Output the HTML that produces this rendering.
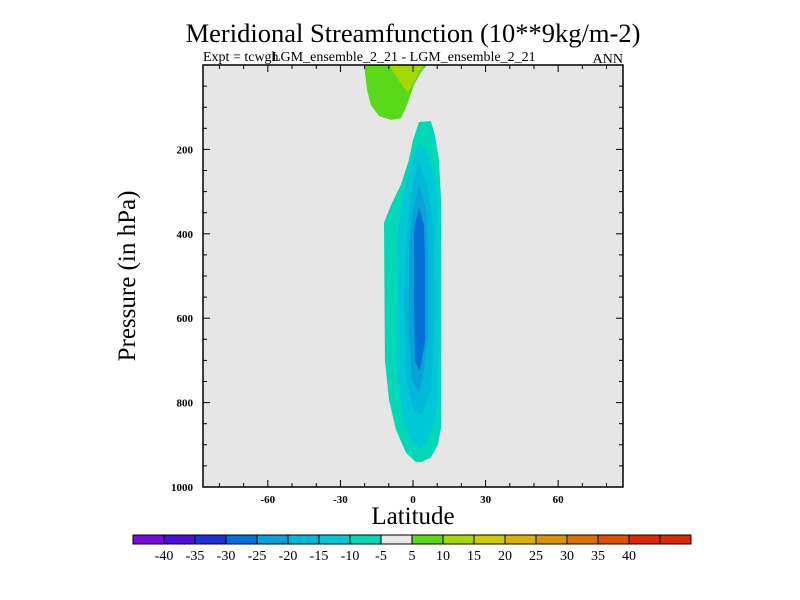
<!DOCTYPE html>
<html><head><meta charset="utf-8"><style>
html,body{margin:0;padding:0;background:#fff;width:800px;height:600px;overflow:hidden}
svg{display:block;font-family:"Liberation Serif",serif}
</style></head><body>
<svg id="chart" width="800" height="600">
<text x="413" y="42" text-anchor="middle" font-size="26.5">Meridional Streamfunction (10**9kg/m-2)</text>
<text x="203" y="61" font-size="14">Expt = tcwgh</text>
<text x="272" y="61" font-size="14">LGM_ensemble_2_21 - LGM_ensemble_2_21</text>
<text x="623" y="63" text-anchor="end" font-size="14">ANN</text>
<rect x="203" y="65" width="420" height="422" fill="#e6e6e6"/>
<g id="contours"></g>
<g id="axes"></g>
<text x="413" y="524" text-anchor="middle" font-size="25">Latitude</text>
<text transform="translate(135,276) rotate(-90)" text-anchor="middle" font-size="25">Pressure (in hPa)</text>
<g id="colorbar"></g>
</svg>
<script>
const xTicks=[-60,-30,0,30,60];
const yTicks=[200,400,600,800,1000];
const cbLabels=[-40,-35,-30,-25,-20,-15,-10,-5,5,10,15,20,25,30,35,40];
const cbColorsAll=["#7a0bdc","#4e10d8","#1c32d6","#0272d8","#0ba0d6","#00b8d8","#00c8d6","#00d8b8","#e8e8e8","#5ad91a","#a4d800","#cfcc00","#dcb100","#dc9400","#dc7000","#dc5000","#dc2a00","#dc2a00"];
// contour regions: [lat, pressure] polygons
const posLevel5=[[-20.2,0],[-19,59],[-17.4,95],[-14,121],[-9.1,130],[-5,126],[-2.5,95],[0.4,47],[3.3,17],[5.8,0]];
const posLevel10=[[-9.9,0],[-6.6,31],[-2.1,66],[0.8,36],[4.1,0]];
const negLevel5=[[2.5,135],[7.4,133],[9.1,166],[10.7,225],[11.6,320],[11.6,860],[10.3,900],[7.4,930],[3.3,941],[1.2,941],[-2.9,919],[-7,865],[-9.9,794],[-11.6,699],[-12,374],[-9.1,332],[-5,284],[-1.7,225],[0,178]];
const negLevel10=[[2.5,185],[5.4,201],[8.3,249],[10.3,320],[10.7,557],[10.3,794],[8.3,865],[3.3,912],[-0.8,889],[-4.1,841],[-6.2,746],[-6.2,391],[-4.1,308],[-0.8,225]];
const negLevel15=[[2.5,232],[5.8,284],[8.7,391],[8.7,628],[7.4,770],[3.7,829],[0.4,818],[-2.9,746],[-3.7,557],[-2.9,415],[-0.4,284]];
const negLevel20=[[2.5,284],[5.4,344],[6.2,462],[6.2,628],[4.5,723],[2.5,777],[-0.4,746],[-1.7,628],[-1.7,438],[0,344]];
const negLevel25=[[2.5,336],[4.5,379],[5,462],[5,652],[3.3,711],[2.5,723],[0.8,699],[0.4,557],[0.4,391]];
const NS="http://www.w3.org/2000/svg";
const x0=203,x1=623,y0=65,y1=487,latMin=-86.8,latMax=86.8,pMin=0,pMax=1000;
function fx(l){return x0+(l-latMin)/(latMax-latMin)*(x1-x0);}
function fy(p){return y0+(p-pMin)/(pMax-pMin)*(y1-y0);}
function mk(t,a,parent){const e=document.createElementNS(NS,t);for(const k in a)e.setAttribute(k,a[k]);parent.appendChild(e);return e;}
const cg=document.getElementById('contours');
const regions=[[posLevel5,"#5ad91a","contour-pos-5"],[posLevel10,"#a4d800","contour-pos-10"],[negLevel5,"#00d8b8","contour-neg-5"],[negLevel10,"#00c8d6","contour-neg-10"],[negLevel15,"#00b8d8","contour-neg-15"],[negLevel20,"#0ba0d6","contour-neg-20"],[negLevel25,"#0272d8","contour-neg-25"]];
regions.forEach(r=>{
 const p=mk('polygon',{points:r[0].map(q=>fx(q[0]).toFixed(1)+','+fy(q[1]).toFixed(1)).join(' '),fill:r[1]},cg);
 
 
});
const ax=document.getElementById('axes');
mk('rect',{x:x0,y:y0,width:x1-x0,height:y1-y0,fill:'none',stroke:'#000','stroke-width':1.5},ax);
for(let l=-80;l<=80;l+=10){const X=fx(l),maj=l%30===0,len=maj?7:4;
 mk('line',{x1:X,y1:y1,x2:X,y2:y1-len,stroke:'#000'},ax);mk('line',{x1:X,y1:y0,x2:X,y2:y0+len,stroke:'#000'},ax);}
for(let p=50;p<1000;p+=50){const Y=fy(p),maj=p%200===0,len=maj?7:4;
 mk('line',{x1:x0,y1:Y,x2:x0+len,y2:Y,stroke:'#000'},ax);mk('line',{x1:x1,y1:Y,x2:x1-len,y2:Y,stroke:'#000'},ax);}
xTicks.forEach(v=>{const t=mk('text',{x:fx(v),y:503,'text-anchor':'middle','font-size':11,'font-weight':'bold'},ax);t.textContent=v;
 });
yTicks.forEach(v=>{const t=mk('text',{x:193,y:fy(v)+4,'text-anchor':'end','font-size':11,'font-weight':'bold'},ax);t.textContent=v;
 });
const cb=document.getElementById('colorbar');
const cbx=133,cbw=31,cby=535,cbh=9;
cbColorsAll.forEach((c,i)=>{const r=mk('rect',{x:cbx+i*cbw,y:cby,width:cbw,height:cbh,fill:c,stroke:'#000','stroke-width':1},cb);
 });
cbLabels.forEach((v,i)=>{const t=mk('text',{x:cbx+(i+1)*cbw,y:560,'text-anchor':'middle','font-size':14},cb);t.textContent=v;
 });
</script>
</body></html>
